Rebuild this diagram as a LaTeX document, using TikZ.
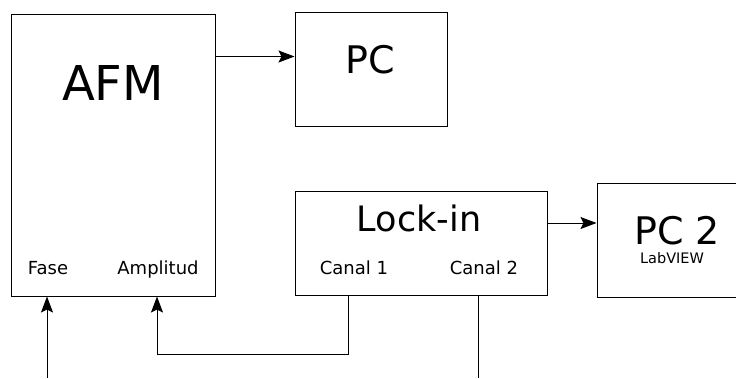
\documentclass[tikz,border=0pt]{standalone}
\usepackage{fontspec}
\setmainfont{DejaVu Sans}
\usetikzlibrary{arrows.meta}

\begin{document}
\begin{tikzpicture}[x=1pt, y=-1pt, line width=1pt,
  arr/.style={-{Stealth[length=16pt, width=12pt, inset=3pt]}},
  box/.style={draw, inner sep=0pt},
  big/.style={anchor=base, font=\fontsize{#1}{#1}\selectfont},
  small/.style={anchor=base, font=\fontsize{18}{18}\selectfont}]
\useasboundingbox (0,0) rectangle (736,378);
\begin{scope}
\clip (0,0) rectangle (736,378);
% boxes
\node[box, minimum width=204pt, minimum height=282pt] (afm) at (113,155) {};
\node[box, minimum width=152pt, minimum height=114pt] (pc) at (371,69) {};
\node[box, minimum width=252pt, minimum height=104pt] (lockin) at (421,243) {};
\node[box, minimum width=153pt, minimum height=114pt] (pctwo) at (673.5,240) {};
\end{scope}
% labels
\node[big=48] (afmtxt) at (113,100) {AFM};
\node[big=38] (pctxt) at (370,73) {PC};
\node[big=35] (locktxt) at (419,231) {Lock-in};
\node[big=38] (pctwotxt) at (677,244) {PC 2};
\node[big=14.5] (labview) at (672,263) {LabVIEW};
\node[small] (fase) at (48,274) {Fase};
\node[small] (amplitud) at (158,274) {Amplitud};
\node[small] (canal1) at (354,274) {Canal 1};
\node[small] (canal2) at (484,274) {Canal 2};
% connectors
\draw[arr] ([yshift=-43pt]afm.north east) -- ([yshift=-43pt]afm.north east -| pc.west);
\draw[arr] ([yshift=20pt]lockin.east) -- ([yshift=20pt]lockin.east -| pctwo.west);
\coordinate (fasein) at (47,378);
\draw[arr] (fasein) -- (fasein |- afm.south);
\coordinate (amp) at (157,354);
\draw[arr] ([xshift=-73pt]lockin.south) |- (amp) -- (amp |- afm.south);
\coordinate (canal2out) at (478,378);
\draw (canal2out |- lockin.south) -- (canal2out);
\end{tikzpicture}
\end{document}
